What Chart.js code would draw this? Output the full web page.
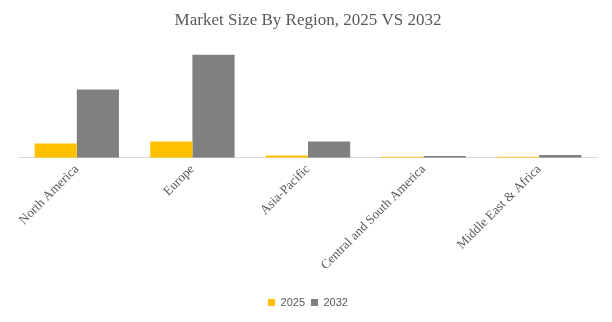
<!DOCTYPE html>
<html>
<head>
<meta charset="utf-8">
<script src="https://cdn.jsdelivr.net/npm/chart.js@4.4.1/dist/chart.umd.min.js"></script>
<style>
  html, body { margin: 0; padding: 0; background: #fff; }
  #wrap { width: 612px; height: 322px; }
</style>
</head>
<body>
<div id="wrap"><canvas id="chart"></canvas></div>
<script>
// regions and values (relative size)
const regions = ['North America', 'Europe', 'Asia-Pacific', 'Central and South America', 'Middle East & Africa'];
const years = ['2025', '2032'];
const values2025 = [14, 16, 2.2, 0.9, 0.9];
const values2032 = [68, 103, 16, 1.6, 2.6];
const barColors = ['#FFC000', '#808080'];

const ctx = document.getElementById('chart').getContext('2d');
new Chart(ctx, {
    type: 'bar',
    data: {
        labels: regions,
        datasets: [
            { label: years[0], data: values2025, backgroundColor: barColors[0] },
            { label: years[1], data: values2032, backgroundColor: barColors[1] }
        ]
    },
    options: {
        responsive: true,
        maintainAspectRatio: false,
        animation: false,
        layout: { padding: { left: 19, right: 15, top: 4, bottom: 4 } },
        datasets: { bar: { categoryPercentage: 0.73, barPercentage: 1 } },
        plugins: {
            title: {
                display: true,
                text: 'Market Size By Region, 2025 VS 2032',
                color: '#595959',
                font: { family: 'Liberation Serif', size: 17, weight: 'normal' },
                padding: { top: 6, bottom: 24 }
            },
            legend: {
                position: 'bottom',
                labels: {
                    boxWidth: 7, boxHeight: 7,
                    color: '#595959',
                    font: { family: 'Liberation Sans', size: 11 },
                    padding: 6
                }
            },
            tooltip: { enabled: false }
        },
        scales: {
            x: {
                grid: { display: false, drawTicks: false },
                border: { color: '#d9d9d9' },
                ticks: {
                    color: '#595959',
                    font: { family: 'Liberation Serif', size: 13 },
                    minRotation: 45, maxRotation: 45,
                    padding: 4
                },
                // leave room between the slanted labels and the legend
                afterFit: function(scale) { scale.height += 14; }
            },
            y: {
                display: false,
                min: 0,
                max: 103
            }
        }
    }
});
</script>
</body>
</html>
